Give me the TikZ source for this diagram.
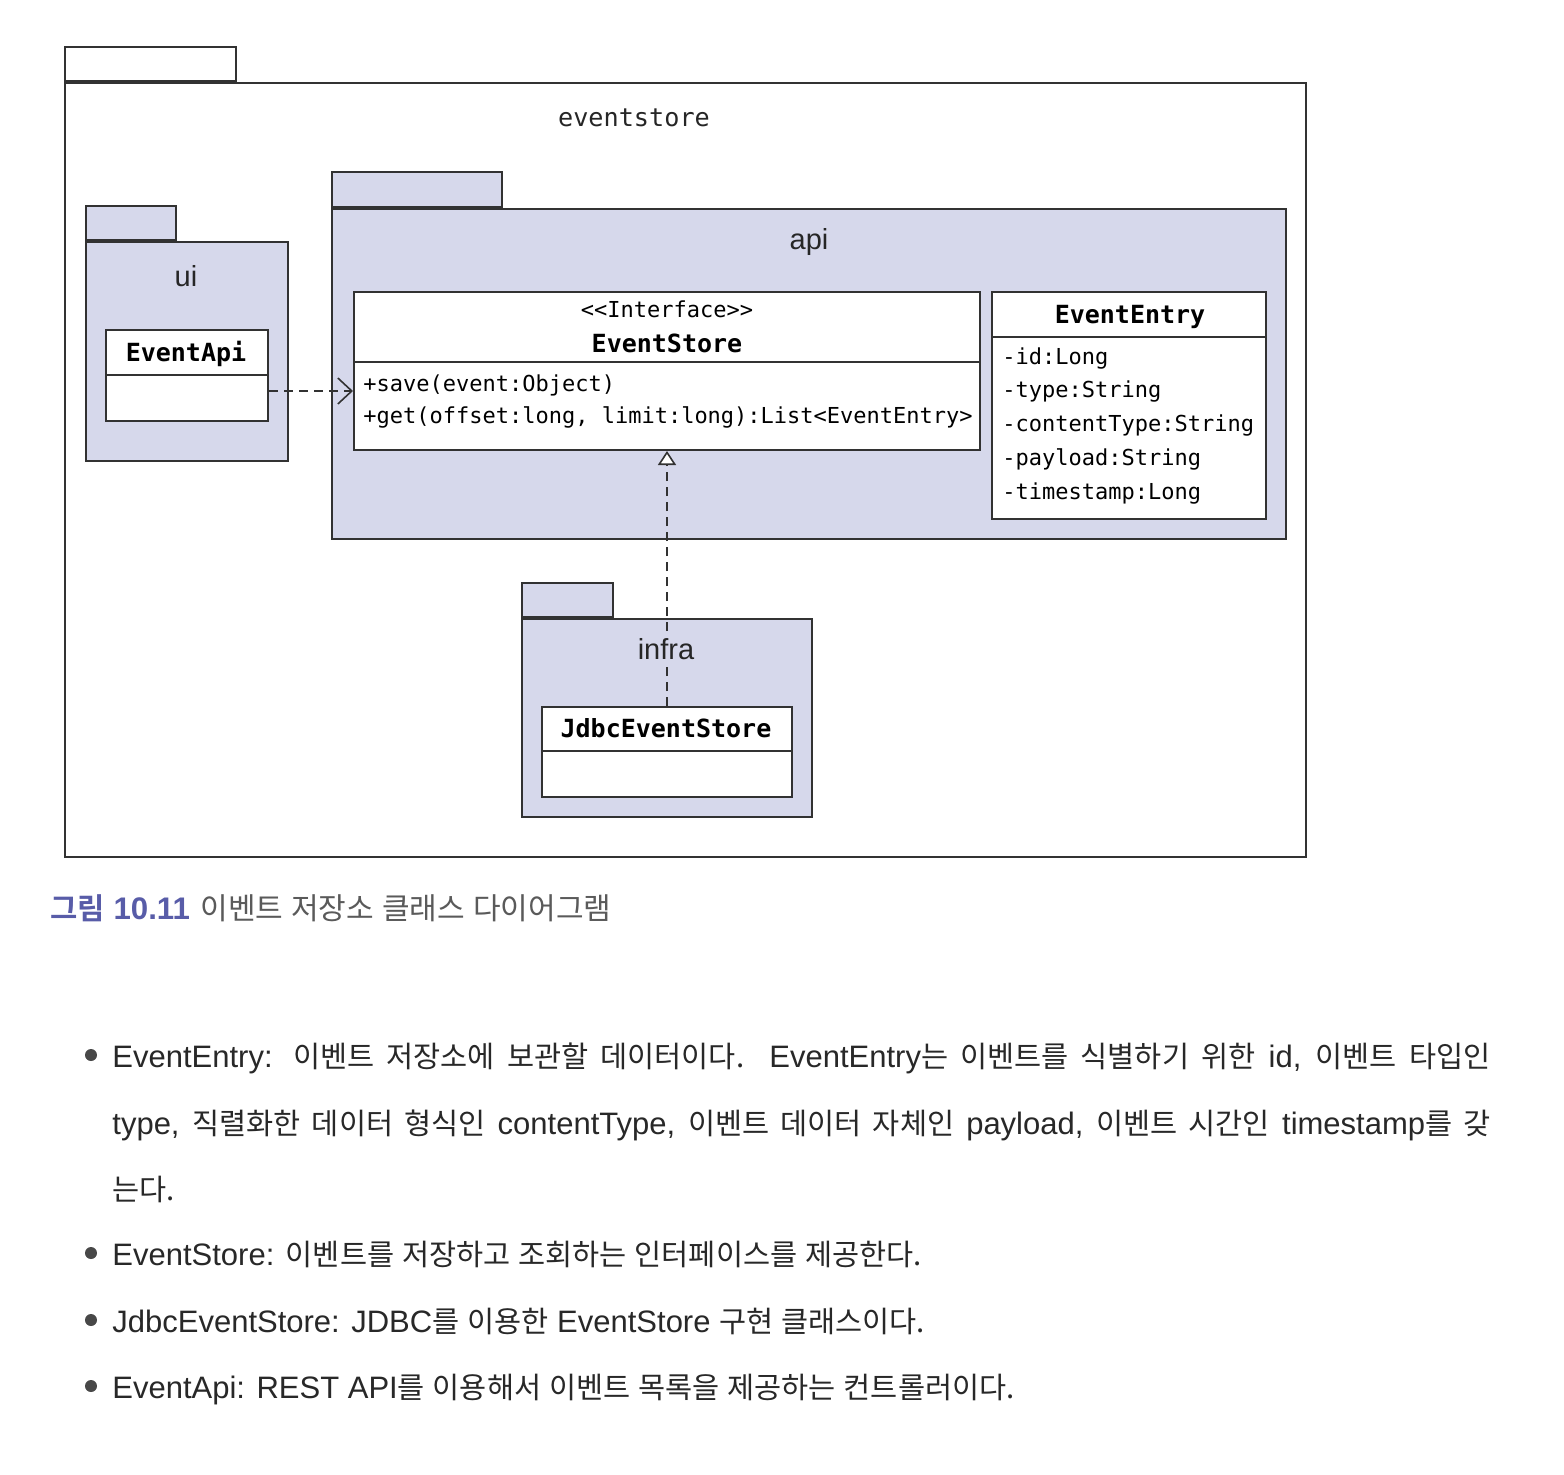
\documentclass[tikz,border=0pt]{standalone}
\usepackage{fontspec}
\setmainfont{Liberation Sans}
\newfontfamily\codefont{DejaVu Sans Mono}
\newfontfamily\krfont[Scale=0.95,WordSpace=1.2,BoldFont={Noto Sans CJK KR Bold}]{Noto Sans CJK KR}
\usetikzlibrary{arrows.meta}
\definecolor{pkgfill}{RGB}{214,216,235}
\definecolor{linegray}{RGB}{50,50,50}
\definecolor{capblue}{RGB}{88,92,168}
\definecolor{capgray}{RGB}{90,90,90}
\definecolor{bodytext}{RGB}{40,40,40}
\begin{document}
\begin{tikzpicture}[x=0.5pt,y=-0.5pt,
    pkg/.style={draw=linegray, line width=1pt, fill=pkgfill, inner sep=0pt, anchor=north west},
    cls/.style={draw=linegray, line width=1pt, fill=white, inner sep=0pt, anchor=north west},
    divider/.style={draw=linegray, line width=1pt},
    pkglabel/.style={font=\fontsize{14.5}{17}\selectfont, text=black!85, anchor=base, inner sep=0pt},
    clsname/.style={font=\codefont\bfseries\fontsize{12.5}{15}\selectfont, anchor=base, inner sep=0pt},
    member/.style={font=\codefont\fontsize{11}{13}\selectfont, anchor=base west, inner sep=0pt},
    dep/.style={draw=linegray, line width=0.8pt, dash pattern=on 4.5pt off 3pt, -{Straight Barb[length=7pt,width=13pt]}},
    real/.style={draw=linegray, line width=0.8pt, dash pattern=on 4.5pt off 3pt, -{Triangle[open,fill=white,length=7pt,width=9pt]}},
    bodyline/.style={font=\fontsize{15.5}{18}\selectfont, text=bodytext, anchor=base west, inner sep=0pt},
    bullet/.style={circle, fill=bodytext!85, inner sep=0pt, minimum size=6pt}]
    \fill[white] (0,0) rectangle (1564,1474);
    \useasboundingbox (0,0) rectangle (1564,1474);

    % packages
    \node[pkg, fill=white, minimum width=620.5pt, minimum height=387pt] (pkgeventstore) at (64,82) {};
    \node[pkg, fill=white, anchor=south west, minimum width=85.5pt, minimum height=17pt] (pkgeventstoretab) at (pkgeventstore.north west) {};
    \node[pkg, minimum width=101pt, minimum height=109.5pt] (pkgui) at (85,241) {};
    \node[pkg, anchor=south west, minimum width=45pt, minimum height=17pt] (pkguitab) at (pkgui.north west) {};
    \node[pkg, minimum width=477pt, minimum height=165pt] (pkgapi) at (331,208) {};
    \node[pkg, anchor=south west, minimum width=85pt, minimum height=17.5pt] (pkgapitab) at (pkgapi.north west) {};
    \node[pkg, minimum width=145pt, minimum height=99pt] (pkginfra) at (521,618) {};
    \node[pkg, anchor=south west, minimum width=45.5pt, minimum height=17pt] (pkginfratab) at (pkginfra.north west) {};

    % classes
    \node[cls, minimum width=81pt, minimum height=45.5pt] (eventapi) at (105,329) {};
    \draw[divider] (eventapi.west |- 0,375) -- (eventapi.east |- 0,375);
    \node[clsname] (eventapiname) at (186,361) {EventApi};

    \node[cls, minimum width=313pt, minimum height=79pt] (eventstore) at (353,291) {};
    \draw[divider] (eventstore.west |- 0,362) -- (eventstore.east |- 0,362);
    \node[member, anchor=base] (eventstorestereo) at (667,317) {<{}<Interface>{}>};
    \node[clsname] (eventstorename) at (667,352) {EventStore};
    \node[member] (savemethod) at (363,391) {+save(event:Object)};
    \node[member] (getmethod) at (363,423) {+get(offset:long, limit:long):List<EventEntry>};

    \node[cls, minimum width=137pt, minimum height=113.5pt] (evententry) at (991,291) {};
    \draw[divider] (evententry.west |- 0,337) -- (evententry.east |- 0,337);
    \node[clsname] (evententryname) at (1130,323) {EventEntry};
    \node[member] (attrid) at (1002,364) {-id:Long};
    \node[member] (attrtype) at (1002,397) {-type:String};
    \node[member] (attrcontent) at (1002,431) {-contentType:String};
    \node[member] (attrpayload) at (1002,465) {-payload:String};
    \node[member] (attrtime) at (1002,499) {-timestamp:Long};

    \node[cls, minimum width=125pt, minimum height=45pt] (jdbcstore) at (541,706) {};
    \draw[divider] (jdbcstore.west |- 0,751) -- (jdbcstore.east |- 0,751);
    \node[clsname] (jdbcstorename) at (666,737) {JdbcEventStore};

    % connectors
    \draw[dep] (eventapi.east |- 0,391) -- (eventstore.west |- 0,391);
    \draw[real] (jdbcstore.north) -- (eventstore.south);

    % package labels
    \node[pkglabel, font=\codefont\fontsize{12.6}{15}\selectfont] (lbleventstore) at (634,126) {eventstore};
    \node[pkglabel] (lblapi) at (809,249) {api};
    \node[pkglabel] (lblui) at (186,286) {ui};
    \node[pkglabel, fill=pkgfill, inner sep=3pt] (lblinfra) at (666,659) {infra};

    % caption
    \node[anchor=base west, inner sep=0pt, text=capblue, font=\bfseries\fontsize{15.6}{18}\selectfont] (capnum) at (50,919) {{\krfont 그림} 10.11};
    \node[anchor=base west, inner sep=0pt, text=capgray, font=\fontsize{15.8}{18}\selectfont] (captext) at (200,919) {\krfont 이벤트 저장소 클래스 다이어그램};

    % description
    \node[bullet] (bullet1) at (91,1055) {};
    \node[bodyline] (line1) at (112,1067) {\makebox[689pt][s]{EventEntry: {\krfont 이벤트 저장소에 보관할 데이터이다.} EventEntry{\krfont 는 이벤트를 식별하기 위한} id, {\krfont 이벤트 타입인}}};
    \node[bodyline] (line2) at (112,1134) {\makebox[689pt][s]{type, {\krfont 직렬화한 데이터 형식인} contentType, {\krfont 이벤트 데이터 자체인} payload, {\krfont 이벤트 시간인} timestamp{\krfont 를 갖}}};
    \node[bodyline] (line3) at (112,1200) {{\krfont 는다.}};
    \node[bullet] (bullet2) at (91,1253) {};
    \node[bodyline] (line4) at (112,1265) {EventStore: {\krfont 이벤트를 저장하고 조회하는 인터페이스를 제공한다.}};
    \node[bullet] (bullet3) at (91,1320) {};
    \node[bodyline] (line5) at (112,1332) {JdbcEventStore: JDBC{\krfont 를 이용한} EventStore {\krfont 구현 클래스이다.}};
    \node[bullet] (bullet4) at (91,1386) {};
    \node[bodyline] (line6) at (112,1398) {EventApi: REST API{\krfont 를 이용해서 이벤트 목록을 제공하는 컨트롤러이다.}};
\end{tikzpicture}
\end{document}
